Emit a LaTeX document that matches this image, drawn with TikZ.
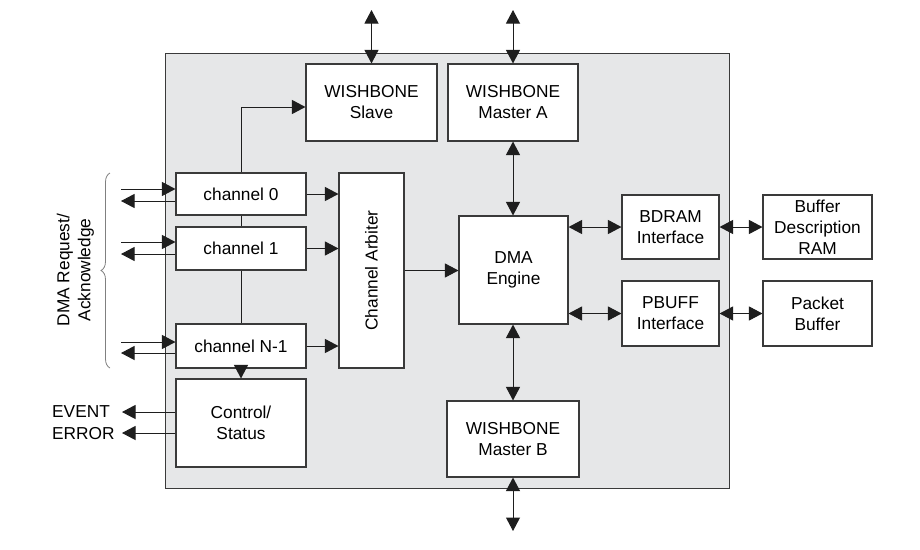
\documentclass[tikz,border=0pt]{standalone}
\usepackage{fontspec}
\setmainfont{Liberation Sans}
\usetikzlibrary{arrows.meta,decorations.pathreplacing,calc}
\definecolor{coregray}{HTML}{E6E7E8}
\definecolor{boxline}{HTML}{3A3A3A}
\definecolor{conn}{HTML}{1E1E1E}
\begin{document}
\begin{tikzpicture}[x=1pt,y=-1pt,
  every node/.style={font=\fontsize{17.3}{21}\selectfont, text=black},
  core/.style={draw=boxline, line width=0.9pt, fill=coregray, inner sep=0pt},
  blk/.style={draw=boxline, line width=1.1pt, fill=white, inner sep=0pt, align=center},
  arr/.style={draw=conn, line width=1pt, -{Triangle[length=13.5pt,width=14pt]}},
  biarr/.style={draw=conn, line width=1pt, {Triangle[length=13.5pt,width=14pt]}-{Triangle[length=13.5pt,width=14pt]}},
  plain/.style={draw=conn, line width=1pt},
  bracestyle/.style={draw=gray, line width=0.8pt, decorate, decoration={brace, amplitude=9pt}},
  lbl/.style={inner sep=0pt, anchor=west}
]
\useasboundingbox (0,0) rectangle (920,549);

% core block
\node[core, minimum width=564pt, minimum height=435pt] (core) at (447,270.5) {};

% blocks
\node[blk, minimum width=131pt, minimum height=77pt] (slave) at (371.5,102.5) {WISHBONE\\Slave};
\node[blk, minimum width=130pt, minimum height=77pt] (masterA) at (513,102.5) {WISHBONE\\Master A};
\node[blk, minimum width=130pt, minimum height=42pt] (ch0) at (241,194) {channel 0};
\node[blk, minimum width=130pt, minimum height=43pt] (ch1) at (241,248.5) {channel 1};
\node[blk, minimum width=130pt, minimum height=44pt] (chN) at (241,346) {channel N-1};
\node[blk, minimum width=130pt, minimum height=88pt] (ctrl) at (241,423) {Control/\\Status};
\node[blk, minimum width=65pt, minimum height=195pt] (arb) at (371.5,270.5) {};
\node[rotate=90] (arbtxt) at (arb.center) {Channel Arbiter};
\node[blk, minimum width=109pt, minimum height=108pt] (dma) at (513.5,270) {DMA\\Engine};
\node[blk, minimum width=132pt, minimum height=76pt] (masterB) at (513,439) {WISHBONE\\Master B};
\node[blk, minimum width=97pt, minimum height=64pt] (bdram) at (670.5,227) {BDRAM\\Interface};
\node[blk, minimum width=97pt, minimum height=65pt] (pbuff) at (670.5,313.5) {PBUFF\\Interface};
\node[blk, minimum width=109pt, minimum height=64pt] (bdr) at (817.5,227) {Buffer\\Description\\RAM};
\node[blk, minimum width=109pt, minimum height=65pt] (pb) at (817.5,313.5) {Packet\\Buffer};

% external bus ends
\coordinate (slaveTop) at (371.5,10);
\coordinate (masterATop) at (513,10);
\coordinate (masterBBot) at (513,531);

\draw[biarr] (slaveTop) -- (slave.north);
\draw[biarr] (masterATop) -- (masterA.north);
\draw[biarr] (masterA.south) -- (masterA.south |- dma.north);
\draw[biarr] (masterB.north |- dma.south) -- (masterB.north);
\draw[biarr] (masterB.south) -- (masterBBot);
\draw[biarr] (dma.east |- bdram.west) -- (bdram.west);
\draw[biarr] (dma.east |- pbuff.west) -- (pbuff.west);
\draw[biarr] (bdram.east) -- (bdr.west);
\draw[biarr] (pbuff.east) -- (pb.west);

% channels to arbiter, arbiter to engine
\draw[arr] (ch0.east) -- (arb.west |- ch0.east);
\draw[arr] (ch1.east) -- (arb.west |- ch1.east);
\draw[arr] (chN.east) -- (arb.west |- chN.east);
\draw[arr] (arb.east) -- (dma.west |- arb.east);

% channel chain
\draw[arr] (ch0.north) |- ($(slave.west)+(0,4.5)$);
\draw[plain] (ch0.south) -- (ch1.north);
\draw[plain] (ch1.south) -- (chN.north);
\draw[arr] (chN.south) -- (ctrl.north);

% DMA request / acknowledge
\coordinate (r0) at (121,189);
\coordinate (a0) at (121,201);
\coordinate (r1) at (121,242);
\coordinate (a1) at (121,254);
\coordinate (rN) at (121,342);
\coordinate (aN) at (121,353);
\draw[arr] (r0) -- (r0 -| ch0.west);
\draw[arr] (a0 -| ch0.west) -- (a0);
\draw[arr] (r1) -- (r1 -| ch1.west);
\draw[arr] (a1 -| ch1.west) -- (a1);
\draw[arr] (rN) -- (rN -| chN.west);
\draw[arr] (aN -| chN.west) -- (aN);

\coordinate (braceBot) at (110,368);
\coordinate (braceTop) at (110,173);
\draw[bracestyle] (braceBot) -- (braceTop);
\node[rotate=90, align=center] (dmalbl) at (75.5,270) {DMA Request/\\Acknowledge};

% event / error
\node[lbl] (evl) at (52,412) {EVENT};
\node[lbl] (erl) at (52,434) {ERROR};
\coordinate (evTip) at (122,412);
\coordinate (erTip) at (122,433);
\draw[arr] (ctrl.west |- evTip) -- (evTip);
\draw[arr] (ctrl.west |- erTip) -- (erTip);
\end{tikzpicture}
\end{document}
